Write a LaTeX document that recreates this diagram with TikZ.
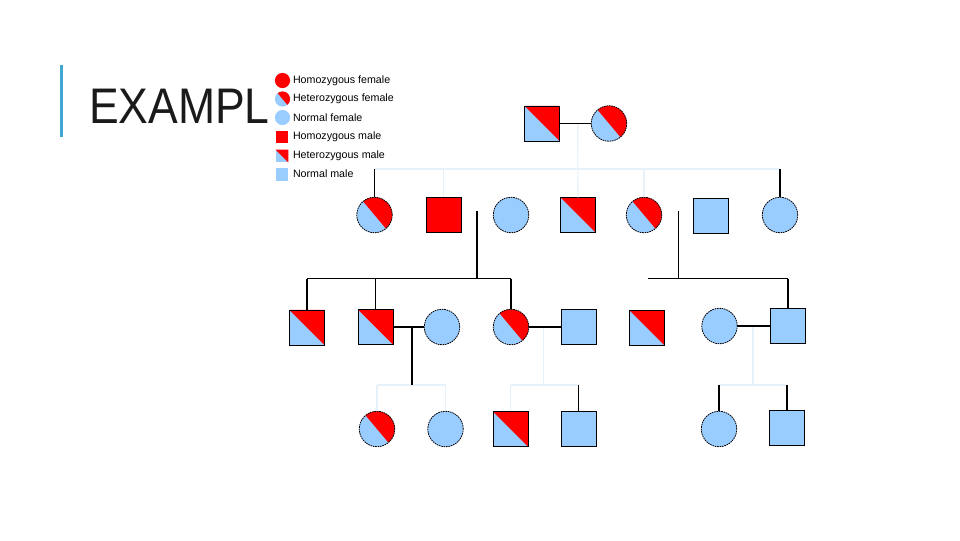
\documentclass[tikz,border=0pt]{standalone}
\usepackage{fontspec}
\usepackage{graphicx}
\setmainfont{Liberation Sans}
\definecolor{lb}{RGB}{153,204,255}
\definecolor{faint}{RGB}{230,241,249}
\definecolor{barblue}{RGB}{64,168,208}
\definecolor{titlecol}{RGB}{26,26,26}
\tikzset{
  base/.style={inner sep=0pt, outer sep=0pt},
  fem/.style={base, circle, minimum size=26.6pt, fill=lb, draw=black, line width=0.6pt, dash pattern=on 1.2pt off 0.6pt},
  mal/.style={base, rectangle, minimum size=26.3pt, fill=lb, draw=black, line width=0.7pt},
  legf/.style={base, circle, minimum size=11.4pt, fill=lb},
  legm/.style={base, rectangle, minimum size=9.6pt, fill=lb},
  hom/.style={fill=red},
  hetc/.style={path picture={\fill[red] (path picture bounding box.center) ++(130:20pt) arc[start angle=130, end angle=-50, radius=20pt] -- cycle;}},
  hets/.style={path picture={\fill[red] (path picture bounding box.north west) -- (path picture bounding box.north east) -- (path picture bounding box.south east) -- cycle;}},
  legtext/.style={base, anchor=west, font=\fontsize{8}{9.6}\selectfont, text=black},
  kin/.style={draw=black, line width=0.85pt},
  ghost/.style={draw=faint, line width=0.85pt},
}
\begin{document}
\begin{tikzpicture}[x=0.75pt, y=-0.75pt]
\useasboundingbox (0,0) rectangle (960,540);
% title bar and title
\fill[barblue] (59.5,65) rectangle (62.5,137);
\node[base, anchor=base west, text=titlecol, font=\fontsize{37.5}{40}\selectfont] (title) at (89,123) {\scalebox{0.89}[1]{EXAMPL}};
% legend
\node[legf, hom] (L1) at (282.5,80.5) {};
\node[legf, hetc] (L2) at (282.5,99) {};
\node[legf] (L3) at (282.5,117.5) {};
\node[legm, hom] (L4) at (282,137) {};
\node[legm, hets] (L5) at (282,156) {};
\node[legm] (L6) at (282,174.5) {};
\node[legtext] (T1) at (293,81) {Homozygous female};
\node[legtext] (T2) at (293,99) {Heterozygous female};
\node[legtext] (T3) at (293,117.5) {Normal female};
\node[legtext] (T4) at (293,136.5) {Homozygous male};
\node[legtext] (T5) at (293,155.5) {Heterozygous male};
\node[legtext] (T6) at (293,174) {Normal male};
% generation I
\node[mal, hets] (I1) at (542,123.5) {};
\node[fem, hetc] (I2) at (609,123.5) {};
% generation II
\node[fem, hetc] (II1) at (374.5,215) {};
\node[mal, hom] (II2) at (443.5,215) {};
\node[fem] (II3) at (511,215) {};
\node[mal, hets] (II4) at (578,215) {};
\node[fem, hetc] (II5) at (644,215) {};
\node[mal] (II6) at (711,215.5) {};
\node[fem] (II7) at (780,215) {};
% generation III
\node[mal, hets] (III1) at (307,327.5) {};
\node[mal, hets] (III2) at (375.5,327) {};
\node[fem] (III3) at (442,327) {};
\node[fem, hetc] (III4) at (511,327) {};
\node[mal] (III5) at (579,327) {};
\node[mal, hets] (III6) at (647,328) {};
\node[fem] (III7) at (719.5,326) {};
\node[mal] (III8) at (788,326) {};
% generation IV
\node[fem, hetc] (IV1) at (377,429) {};
\node[fem] (IV2) at (445.5,429) {};
\node[mal, hets] (IV3) at (510.5,429) {};
\node[mal] (IV4) at (578.5,428.5) {};
\node[fem] (IV5) at (719,429) {};
\node[mal] (IV6) at (787,428) {};
% coordinates
\coordinate (m1) at (577.7,123.5);
\coordinate (s2L) at (374.5,169);
\coordinate (s2R) at (780,169);
\coordinate (c1) at (477,211);
\coordinate (c2) at (678.5,211);
\coordinate (s3a) at (307,278.6);
\coordinate (s3b) at (511,278.6);
\coordinate (s3c) at (648,278.6);
\coordinate (s3d) at (788,278.6);
\coordinate (d1) at (412,327);
\coordinate (d2) at (543.6,327);
\coordinate (d3) at (753,326);
\coordinate (s4a) at (377,385);
\coordinate (s4b) at (445.5,385);
\coordinate (s4c) at (510.5,385);
\coordinate (s4d) at (578.5,385);
\coordinate (s4e) at (719,385);
\coordinate (s4f) at (787,385);
% faint connectors
\draw[ghost] (m1) -- (II4.north);
\draw[ghost] (s2L) -- (s2R);
\draw[ghost] (II2.north |- s2L) -- (II2.north);
\draw[ghost] (II5.north |- s2L) -- (II5.north);
\draw[ghost] (d2) -- (d2 |- s4c);
\draw[ghost] (d3) -- (d3 |- s4e);
\draw[ghost] (s4a) -- (s4b);
\draw[ghost] (s4c) -- (s4d);
\draw[ghost] (s4e) -- (s4f);
\draw[ghost] (s4a) -- (IV1.north);
\draw[ghost] (s4b) -- (IV2.north);
\draw[ghost] (s4c) -- (IV3.north);
% black connectors
\draw[kin] (I1) -- (I2);
\draw[kin] (s2L) -- (II1.north);
\draw[kin] (s2R) -- (II7.north);
\draw[kin] (c1) -- (c1 |- s3a);
\draw[kin] (c2) -- (c2 |- s3c);
\draw[kin] (s3a) -- (s3b);
\draw[kin] (s3c) -- (s3d);
\draw[kin] (s3a) -- (III1.north);
\draw[kin] (III2.north |- s3a) -- (III2.north);
\draw[kin] (s3b) -- (III4.north);
\draw[kin] (s3d) -- (III8.north);
\draw[kin] (III2) -- (III3);
\draw[kin] (III4) -- (III5);
\draw[kin] (III7) -- (III8);
\draw[kin] (d1) -- (d1 |- s4a);
\draw[kin] (s4d) -- (IV4.north);
\draw[kin] (s4e) -- (IV5.north);
\draw[kin] (s4f) -- (IV6.north);
\end{tikzpicture}
\end{document}
